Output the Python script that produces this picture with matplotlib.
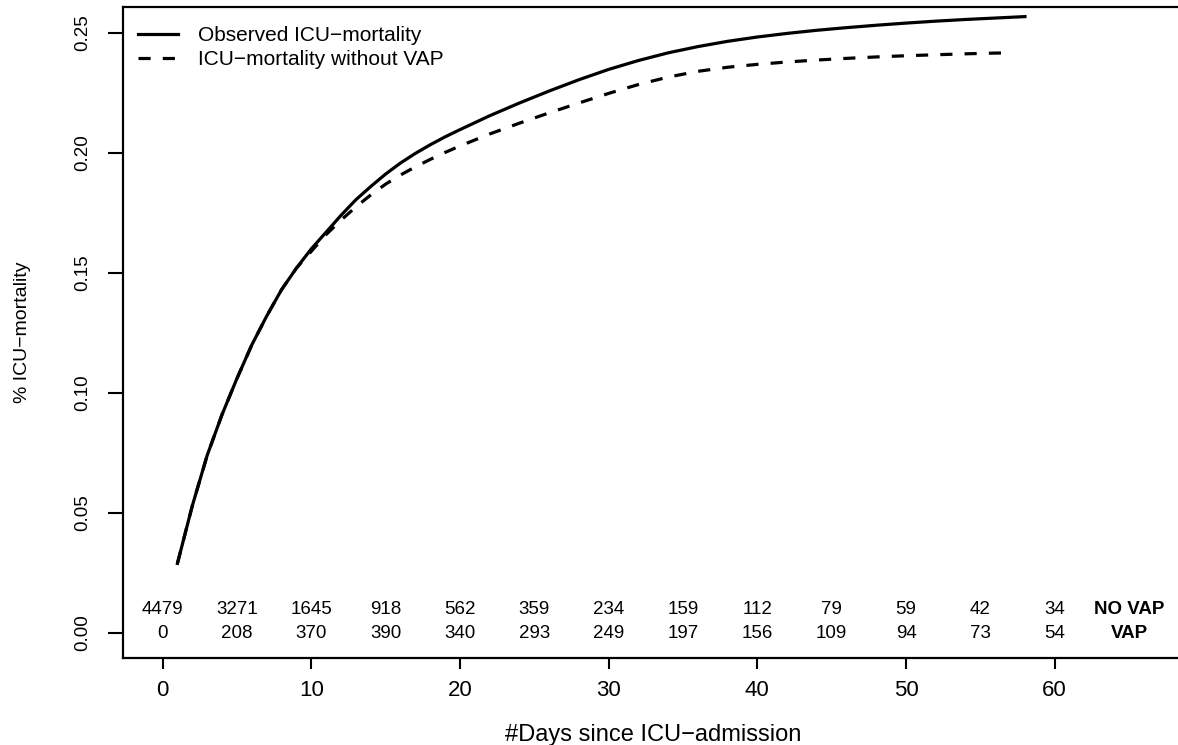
import matplotlib
matplotlib.use("Agg")
import matplotlib.pyplot as plt

plt.rcParams["font.family"] = ["Liberation Sans", "DejaVu Sans"]

# cumulative ICU mortality by day since admission
days_obs = [1, 2, 3, 4, 5, 6, 7, 8, 9, 10, 11, 12, 13, 14, 15, 16, 17, 18, 19, 20,
            22, 24, 26, 28, 30, 32, 34, 36, 38, 40, 42, 44, 46, 48, 50, 52, 54, 56, 58]
mort_obs = [0.029, 0.053, 0.074, 0.091, 0.106, 0.120, 0.132, 0.143, 0.152, 0.160,
            0.167, 0.174, 0.1805, 0.186, 0.1912, 0.1958, 0.1998, 0.2034, 0.2067, 0.2097,
            0.2155, 0.2208, 0.2258, 0.2305, 0.2348, 0.2385, 0.2417, 0.2443, 0.2465,
            0.2483, 0.2498, 0.2511, 0.2522, 0.2532, 0.2541, 0.2549, 0.2556, 0.2562, 0.2568]

days_novap = [1, 2, 3, 4, 5, 6, 7, 8, 9, 10, 11, 12, 13, 14, 15, 16, 17, 18, 19, 20,
              22, 24, 26, 28, 30, 32, 34, 36, 38, 40, 42, 44, 46, 48, 50, 52, 54, 56, 57]
mort_novap = [0.029, 0.053, 0.074, 0.091, 0.106, 0.120, 0.132, 0.143, 0.152, 0.159,
              0.166, 0.172, 0.1775, 0.1825, 0.187, 0.1908, 0.1942, 0.1973, 0.2002, 0.2029,
              0.2079, 0.2124, 0.2167, 0.2208, 0.2248, 0.2285, 0.2316, 0.2340, 0.2357,
              0.2369, 0.2379, 0.2387, 0.2394, 0.2400, 0.2405, 0.2409, 0.2413, 0.2416, 0.2417]

# patients at risk
risk_days = [0, 5, 10, 15, 20, 25, 30, 35, 40, 45, 50, 55, 60]
n_novap = [4479, 3271, 1645, 918, 562, 359, 234, 159, 112, 79, 59, 42, 34]
n_vap = [0, 208, 370, 390, 340, 293, 249, 197, 156, 109, 94, 73, 54]

fig = plt.figure(figsize=(11.78, 7.45), dpi=100)
ax = fig.add_axes([123 / 1178, 87 / 745, 1068.5 / 1178, 651 / 745])

ax.plot(days_obs, mort_obs, color="black", lw=2.3, label="Observed ICU\u2212mortality")
ax.plot(days_novap, mort_novap, color="black", lw=2.3, linestyle=(0, (3.8, 3.8)),
        label="ICU\u2212mortality without VAP")

# numbers at risk
for d, a, b in zip(risk_days, n_novap, n_vap):
    ax.text(d, 0.0096, str(a), ha="center", va="center", fontsize=13.5)
    ax.text(d, 0.0, str(b), ha="center", va="center", fontsize=13.5)
ax.text(65, 0.0096, "NO VAP", ha="center", va="center", fontsize=13.5, fontweight="bold")
ax.text(65, 0.0, "VAP", ha="center", va="center", fontsize=13.5, fontweight="bold")

ax.set_xlim(-2.66, 69.2)
ax.set_ylim(-0.0104, 0.2608)
ax.set_xticks([0, 10, 20, 30, 40, 50, 60])
ax.set_yticks([0.00, 0.05, 0.10, 0.15, 0.20, 0.25])
ax.set_yticklabels(["0.00", "0.05", "0.10", "0.15", "0.20", "0.25"])

ax.tick_params(axis="x", length=8, width=1.5, pad=8, labelsize=16)
ax.tick_params(axis="y", length=11, width=1.5, pad=12, labelsize=13.5, labelrotation=90)
for lab in ax.get_yticklabels():
    lab.set_va("center")

ax.spines["right"].set_visible(False)
for s in ax.spines.values():
    s.set_linewidth(1.6)

ax.set_xlabel("#Days since ICU\u2212admission", fontsize=17, va="center")
ax.xaxis.set_label_coords(0.496, -0.118)
ax.set_ylabel("% ICU\u2212mortality", fontsize=14, va="center")
ax.yaxis.set_label_coords(-0.0945, 0.5)

ax.legend(loc="upper left", bbox_to_anchor=(0.0, 0.993), frameon=False, fontsize=15,
          handlelength=1.92, handletextpad=0.96, borderaxespad=0.3, borderpad=0.4,
          labelspacing=0.25)

fig.savefig("out.png", dpi=100)
